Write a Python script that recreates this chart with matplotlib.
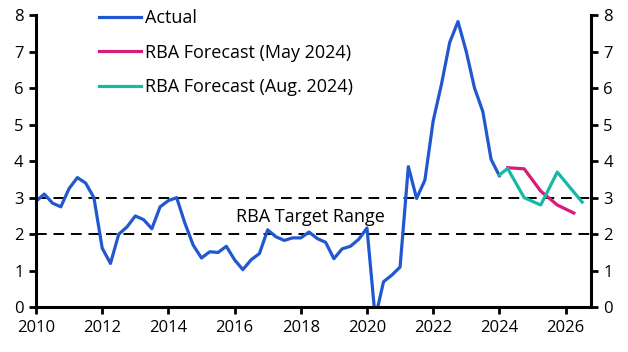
import matplotlib
matplotlib.use("Agg")
import matplotlib.pyplot as plt
import numpy as np

# Quarterly data (x = year + (quarter-1)/4)
actual_start = 2010.0
actual = [2.9, 3.1, 2.85, 2.75,
          3.25, 3.55, 3.4, 3.0,
          1.62, 1.2, 2.0, 2.2,
          2.5, 2.4, 2.15, 2.75,
          2.92, 3.0, 2.3, 1.7,
          1.35, 1.52, 1.5, 1.67,
          1.3, 1.03, 1.3, 1.47,
          2.12, 1.93, 1.83, 1.9,
          1.9, 2.06, 1.88, 1.78,
          1.33, 1.6, 1.67, 1.86,
          2.17, -0.3, 0.7, 0.88,
          1.1, 3.85, 2.98, 3.48,
          5.1, 6.1, 7.25, 7.82,
          7.0, 6.0, 5.36, 4.05,
          3.6]

may_x = [2024.25, 2024.75, 2025.25, 2025.75, 2026.25]
may_vals = [3.82, 3.79, 3.18, 2.8, 2.58]

aug_x = [2024.0, 2024.25, 2024.75, 2025.25, 2025.75, 2026.5]
aug_vals = [3.62, 3.8, 3.0, 2.8, 3.7, 2.88]

target_range = [2, 3]
xticks = [2010, 2012, 2014, 2016, 2018, 2020, 2022, 2024, 2026]
yticks = [0, 1, 2, 3, 4, 5, 6, 7, 8]

blue = "#2158d0"
magenta = "#d81b7b"
teal = "#17b8a6"

plt.rcParams['font.family'] = ['Open Sans', 'DejaVu Sans']
plt.rcParams['font.size'] = 12

fig = plt.figure(figsize=(6.28, 3.52), dpi=100)
ax = fig.add_axes([36/628, 1-307.3/352, (590.7-36)/628, (307.3-15)/352])

x_actual = actual_start + np.arange(len(actual)) / 4.0

for v in target_range:
    ax.axhline(v, color="black", lw=1.4, ls=(0, (5.5, 3.5)), zorder=1)

ax.plot(x_actual, actual, color=blue, lw=2.3, label="Actual", zorder=3)
ax.plot(may_x, may_vals, color=magenta, lw=2.3, label="RBA Forecast (May 2024)", zorder=3)
ax.plot(aug_x, aug_vals, color=teal, lw=2.3, label="RBA Forecast (Aug. 2024)", zorder=4)

ax.text(2018.3, 2.47, "RBA Target Range", ha="center", va="center", fontsize=13)

ax.set_xlim(2010, 2026.76)
ax.set_ylim(0, 8)
ax.set_xticks(xticks)
ax.set_yticks(yticks)

for s in ["left", "right", "bottom"]:
    ax.spines[s].set_linewidth(2.2)
    ax.spines[s].set_color("black")
    ax.spines[s].set_zorder(5)
ax.spines["top"].set_visible(False)

ax.tick_params(axis="both", direction="out", length=5, width=2, colors="black", labelsize=12)
ax.tick_params(axis="y", left=True, right=True, labelleft=True, labelright=True, pad=4)
ax.tick_params(axis="x", pad=4)

leg = ax.legend(loc="upper left", bbox_to_anchor=(0.1, 1.045), frameon=False,
                handlelength=2.33, handletextpad=0.22, labelspacing=0.92, fontsize=13,
                borderaxespad=0)

fig.savefig("out.png", dpi=100)
